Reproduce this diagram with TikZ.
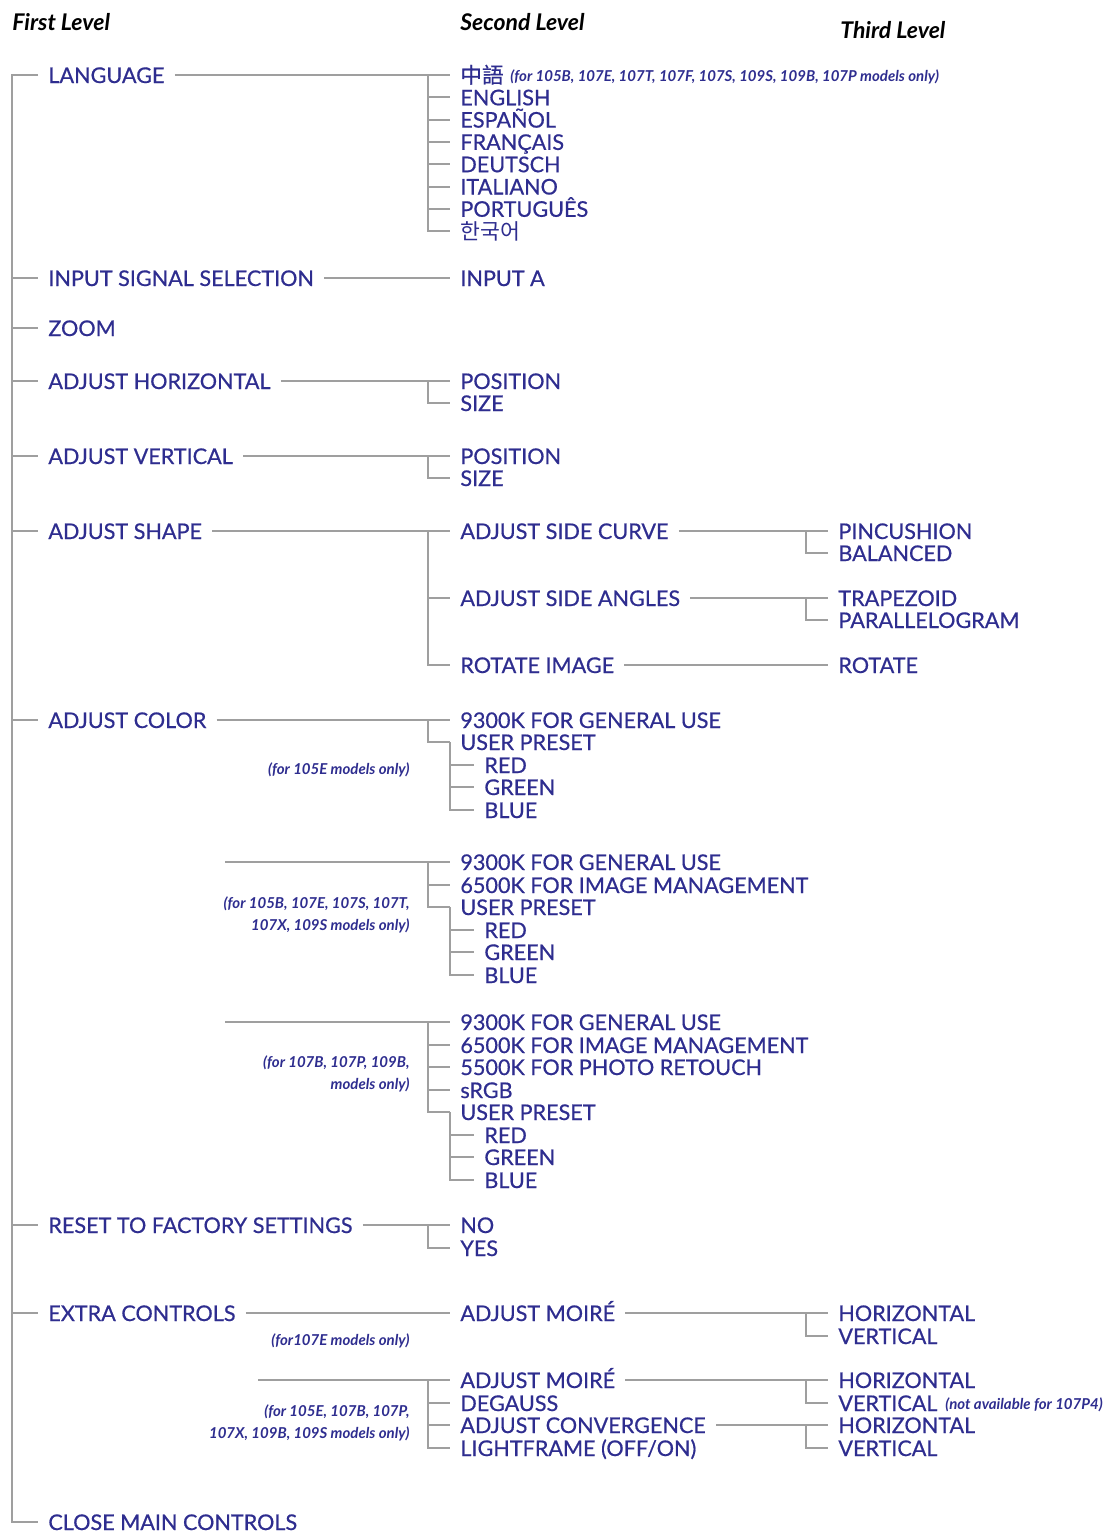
\documentclass[tikz,border=0pt]{standalone}
\usepackage{fontspec}
\setmainfont{Lato}
\newfontfamily\menufont[FakeBold=0.6]{Lato}
\newfontfamily\cjktc[FakeBold=0.6]{Noto Sans CJK TC}
\newfontfamily\cjkkr{Noto Sans CJK KR}
\usetikzlibrary{calc}
\definecolor{menublue}{HTML}{2E2D8F}
\tikzstyle{lvl} = [anchor=west, inner xsep=5pt, inner ysep=0pt, text height=8pt, text depth=0pt, text=menublue, font=\menufont\fontsize{10.8}{13}\selectfont]
\tikzstyle{note} = [anchor=east, align=right, inner sep=0pt, text=menublue, font=\fontsize{7.5}{11}\selectfont\bfseries\itshape]
\tikzstyle{head} = [anchor=west, inner sep=0pt, font=\fontsize{11.5}{13}\selectfont\bfseries\itshape]
\tikzstyle{link} = [draw, gray!75, line width=1pt]

\begin{document}
\begin{tikzpicture}[x=0.5pt, y=-0.5pt]
\useasboundingbox (0,0) rectangle (1112,1532);
\coordinate (trunk) at (12,0);
\coordinate (col2) at (428,0);
\coordinate (col3) at (806,0);

% headings
\node [head] (h1) at (12,22) {First Level};
\node [head] (h2) at (460,22) {Second Level};
\node [head] (h3) at (840,30) {Third Level};

% first level
\node [lvl] (lang) at (38,75) {LANGUAGE};
\node [lvl] (input) at (38,278) {INPUT SIGNAL SELECTION};
\node [lvl] (zoom) at (38,328) {ZOOM};
\node [lvl] (ahor) at (38,381) {ADJUST HORIZONTAL};
\node [lvl] (aver) at (38,456) {ADJUST VERTICAL};
\node [lvl] (ashape) at (38,531) {ADJUST SHAPE};
\node [lvl] (acol) at (38,720) {ADJUST COLOR};
\node [lvl] (reset) at (38,1225) {RESET TO FACTORY SETTINGS};
\node [lvl] (extra) at (38,1313) {EXTRA CONTROLS};
\node [lvl] (close) at (38,1522) {CLOSE MAIN CONTROLS};

% languages
\node [lvl] (zh) at (450,75) {\cjktc 中語};
\node [note, anchor=west] (zhnote) at (510,77) {(for 105B, 107E, 107T, 107F, 107S, 109S, 109B, 107P models only)};
\node [lvl] (en) at (450,97.3) {ENGLISH};
\node [lvl] (es) at (450,119.6) {ESPAÑOL};
\node [lvl] (fr) at (450,141.9) {FRANÇAIS};
\node [lvl] (de) at (450,164.2) {DEUTSCH};
\node [lvl] (it) at (450,186.5) {ITALIANO};
\node [lvl] (pt) at (450,208.8) {PORTUGUÊS};
\node [lvl] (ko) at (450,231.1) {\cjkkr 한국어};

% input, geometry
\node [lvl] (inA) at (450,278) {INPUT A};
\node [lvl] (hpos) at (450,381) {POSITION};
\node [lvl] (hsize) at (450,403) {SIZE};
\node [lvl] (vpos) at (450,456) {POSITION};
\node [lvl] (vsize) at (450,478) {SIZE};
\node [lvl] (curve) at (450,531) {ADJUST SIDE CURVE};
\node [lvl] (angle) at (450,598) {ADJUST SIDE ANGLES};
\node [lvl] (rot) at (450,665) {ROTATE IMAGE};
\node [lvl] (pin) at (828,531) {PINCUSHION};
\node [lvl] (bal) at (828,553) {BALANCED};
\node [lvl] (trap) at (828,598) {TRAPEZOID};
\node [lvl] (para) at (828,620) {PARALLELOGRAM};
\node [lvl] (rotate) at (828,665) {ROTATE};

% colour, first group
\node [lvl] (c1a) at (450,720) {9300K FOR GENERAL USE};
\node [lvl] (c1u) at (450,742) {USER PRESET};
\node [lvl] (c1r) at (474,765) {RED};
\node [lvl] (c1g) at (474,787) {GREEN};
\node [lvl] (c1l) at (474,810) {BLUE};
\node [note] (n1) at (410,770) {(for 105E models only)};

% colour, second group
\coordinate (g2) at (225,862);
\node [lvl] (c2a) at (450,862) {9300K FOR GENERAL USE};
\node [lvl] (c2b) at (450,885) {6500K FOR IMAGE MANAGEMENT};
\node [lvl] (c2u) at (450,907) {USER PRESET};
\node [lvl] (c2r) at (474,930) {RED};
\node [lvl] (c2g) at (474,952) {GREEN};
\node [lvl] (c2l) at (474,975) {BLUE};
\node [note] (n2) at (410,915) {(for 105B, 107E, 107S, 107T,\\107X, 109S models only)};

% colour, third group
\coordinate (g3) at (225,1022);
\node [lvl] (c3a) at (450,1022) {9300K FOR GENERAL USE};
\node [lvl] (c3b) at (450,1045) {6500K FOR IMAGE MANAGEMENT};
\node [lvl] (c3c) at (450,1067) {5500K FOR PHOTO RETOUCH};
\node [lvl] (c3s) at (450,1090) {sRGB};
\node [lvl] (c3u) at (450,1112) {USER PRESET};
\node [lvl] (c3r) at (474,1135) {RED};
\node [lvl] (c3g) at (474,1157) {GREEN};
\node [lvl] (c3l) at (474,1180) {BLUE};
\node [note] (n3) at (410,1074) {(for 107B, 107P, 109B,\\models only)};

% reset
\node [lvl] (no) at (450,1225) {NO};
\node [lvl] (yes) at (450,1248) {YES};

% extra controls
\node [lvl] (m1) at (450,1313) {ADJUST MOIRÉ};
\node [lvl] (x1h) at (828,1313) {HORIZONTAL};
\node [lvl] (x1v) at (828,1336) {VERTICAL};
\node [note] (n4) at (410,1341) {(for107E models only)};
\coordinate (g4) at (258,1380);
\node [lvl] (m2) at (450,1380) {ADJUST MOIRÉ};
\node [lvl] (deg) at (450,1403) {DEGAUSS};
\node [lvl] (conv) at (450,1425) {ADJUST CONVERGENCE};
\node [lvl] (light) at (450,1448) {LIGHTFRAME (OFF/ON)};
\node [lvl] (x2h) at (828,1380) {HORIZONTAL};
\node [lvl] (x2v) at (828,1403) {VERTICAL};
\node [note, anchor=west] (n6) at (945,1405) {(not available for 107P4)};
\node [lvl] (x3h) at (828,1425) {HORIZONTAL};
\node [lvl] (x3v) at (828,1448) {VERTICAL};
\node [note] (n5) at (410,1423) {(for 105E, 107B, 107P,\\107X, 109B, 109S models only)};

% trunk and first level ticks
\path [link] (lang.west) -| (trunk |- close.west) -- (close.west);
\path [link] (trunk |- input.west) -- (input.west);
\path [link] (trunk |- zoom.west) -- (zoom.west);
\path [link] (trunk |- ahor.west) -- (ahor.west);
\path [link] (trunk |- aver.west) -- (aver.west);
\path [link] (trunk |- ashape.west) -- (ashape.west);
\path [link] (trunk |- acol.west) -- (acol.west);
\path [link] (trunk |- reset.west) -- (reset.west);
\path [link] (trunk |- extra.west) -- (extra.west);

% language
\path [link] (lang.east) -- (zh.west);
\path [link] (col2 |- zh.west) |- (ko.west);
\path [link] (col2 |- en.west) -- (en.west);
\path [link] (col2 |- es.west) -- (es.west);
\path [link] (col2 |- fr.west) -- (fr.west);
\path [link] (col2 |- de.west) -- (de.west);
\path [link] (col2 |- it.west) -- (it.west);
\path [link] (col2 |- pt.west) -- (pt.west);

\path [link] (input.east) -- (inA.west);

\path [link] (ahor.east) -- (hpos.west);
\path [link] (col2 |- hpos.west) |- (hsize.west);
\path [link] (aver.east) -- (vpos.west);
\path [link] (col2 |- vpos.west) |- (vsize.west);

% shape
\path [link] (ashape.east) -- (curve.west);
\path [link] (col2 |- curve.west) |- (rot.west);
\path [link] (col2 |- angle.west) -- (angle.west);
\path [link] (curve.east) -- (pin.west);
\path [link] (col3 |- pin.west) |- (bal.west);
\path [link] (angle.east) -- (trap.west);
\path [link] (col3 |- trap.west) |- (para.west);
\path [link] (rot.east) -- (rotate.west);

% colour
\path [link] (acol.east) -- (c1a.west);
\path [link] (col2 |- c1a.west) |- (c1u.west);
\path [link] (c1u.west) |- (c1l.west);
\path [link] (c1u.west |- c1r.west) -- (c1r.west);
\path [link] (c1u.west |- c1g.west) -- (c1g.west);

\path [link] (g2) -- (c2a.west);
\path [link] (col2 |- c2a.west) |- (c2u.west);
\path [link] (col2 |- c2b.west) -- (c2b.west);
\path [link] (c2u.west) |- (c2l.west);
\path [link] (c2u.west |- c2r.west) -- (c2r.west);
\path [link] (c2u.west |- c2g.west) -- (c2g.west);

\path [link] (g3) -- (c3a.west);
\path [link] (col2 |- c3a.west) |- (c3u.west);
\path [link] (col2 |- c3b.west) -- (c3b.west);
\path [link] (col2 |- c3c.west) -- (c3c.west);
\path [link] (col2 |- c3s.west) -- (c3s.west);
\path [link] (c3u.west) |- (c3l.west);
\path [link] (c3u.west |- c3r.west) -- (c3r.west);
\path [link] (c3u.west |- c3g.west) -- (c3g.west);

% reset
\path [link] (reset.east) -- (no.west);
\path [link] (col2 |- no.west) |- (yes.west);

% extra
\path [link] (extra.east) -- (m1.west);
\path [link] (m1.east) -- (x1h.west);
\path [link] (col3 |- x1h.west) |- (x1v.west);
\path [link] (g4) -- (m2.west);
\path [link] (col2 |- m2.west) |- (light.west);
\path [link] (col2 |- deg.west) -- (deg.west);
\path [link] (col2 |- conv.west) -- (conv.west);
\path [link] (m2.east) -- (x2h.west);
\path [link] (col3 |- x2h.west) |- (x2v.west);
\path [link] (conv.east) -- (x3h.west);
\path [link] (col3 |- x3h.west) |- (x3v.west);

\end{tikzpicture}
\end{document}
